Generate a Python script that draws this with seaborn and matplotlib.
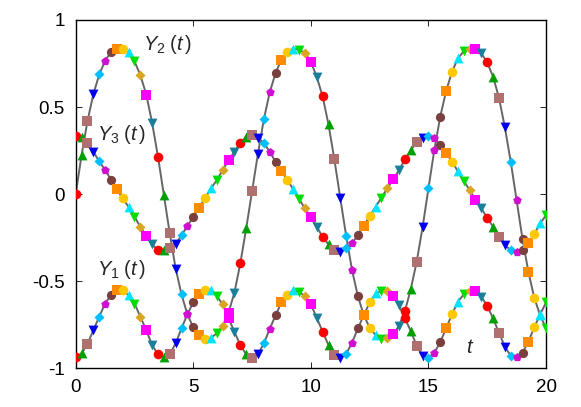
import numpy as np
import pandas as pd
import seaborn as sns
import matplotlib
matplotlib.use("Agg")
import matplotlib.pyplot as plt

# sample times (step 0.25)
t = [0.0, 0.25, 0.5, 0.75, 1.0, 1.25, 1.5, 1.75, 2.0, 2.25,
     2.5, 2.75, 3.0, 3.25, 3.5, 3.75, 4.0, 4.25, 4.5, 4.75,
     5.0, 5.25, 5.5, 5.75, 6.0, 6.25, 6.5, 6.75, 7.0, 7.25,
     7.5, 7.75, 8.0, 8.25, 8.5, 8.75, 9.0, 9.25, 9.5, 9.75,
     10.0, 10.25, 10.5, 10.75, 11.0, 11.25, 11.5, 11.75, 12.0, 12.25,
     12.5, 12.75, 13.0, 13.25, 13.5, 13.75, 14.0, 14.25, 14.5, 14.75,
     15.0, 15.25, 15.5, 15.75, 16.0, 16.25, 16.5, 16.75, 17.0, 17.25,
     17.5, 17.75, 18.0, 18.25, 18.5, 18.75, 19.0, 19.25, 19.5, 19.75,
     20.0]

y1 = [-0.938, -0.915, -0.861, -0.781, -0.704, -0.628, -0.580, -0.553, -0.553, -0.580,
      -0.628, -0.704, -0.781, -0.867, -0.920, -0.935, -0.920, -0.857, -0.771, -0.689,
      -0.622, -0.576, -0.551, -0.551, -0.586, -0.633, -0.714, -0.790, -0.867, -0.920,
      -0.940, -0.920, -0.857, -0.775, -0.695, -0.622, -0.580, -0.551, -0.561, -0.586,
      -0.633, -0.710, -0.790, -0.867, -0.924, -0.943, -0.918, -0.853, -0.771, -0.695,
      -0.622, -0.570, -0.557, -0.557, -0.586, -0.637, -0.714, -0.786, -0.871, -0.928,
      -0.940, -0.911, -0.851, -0.771, -0.691, -0.618, -0.576, -0.557, -0.557, -0.589,
      -0.641, -0.714, -0.796, -0.876, -0.928, -0.938, -0.911, -0.848, -0.765, -0.691,
      -0.622]

y2 = [0.000, 0.224, 0.419, 0.574, 0.687, 0.765, 0.817, 0.836, 0.836, 0.817,
      0.763, 0.683, 0.572, 0.409, 0.214, -0.006, -0.226, -0.427, -0.576, -0.691,
      -0.765, -0.809, -0.829, -0.824, -0.800, -0.757, -0.680, -0.565, -0.398, -0.197,
      0.017, 0.233, 0.429, 0.584, 0.696, 0.773, 0.817, 0.836, 0.830, 0.811,
      0.760, 0.674, 0.561, 0.400, 0.199, -0.022, -0.239, -0.436, -0.586, -0.695,
      -0.767, -0.809, -0.832, -0.825, -0.804, -0.756, -0.672, -0.545, -0.388, -0.191,
      0.033, 0.253, 0.444, 0.591, 0.702, 0.779, 0.821, 0.836, 0.836, 0.808,
      0.756, 0.674, 0.553, 0.383, 0.186, -0.036, -0.258, -0.446, -0.595, -0.695,
      -0.771]

y3 = [0.335, 0.329, 0.291, 0.243, 0.189, 0.138, 0.084, 0.029, -0.025, -0.073,
      -0.130, -0.188, -0.239, -0.289, -0.321, -0.321, -0.312, -0.289, -0.235, -0.184,
      -0.130, -0.077, -0.023, 0.033, 0.080, 0.138, 0.195, 0.243, 0.295, 0.329,
      0.339, 0.320, 0.295, 0.243, 0.186, 0.134, 0.080, 0.029, -0.029, -0.082,
      -0.134, -0.188, -0.245, -0.289, -0.323, -0.335, -0.312, -0.283, -0.235, -0.182,
      -0.126, -0.073, -0.021, 0.033, 0.086, 0.138, 0.199, 0.253, 0.297, 0.323,
      0.335, 0.320, 0.285, 0.239, 0.186, 0.132, 0.077, 0.023, -0.031, -0.082,
      -0.136, -0.188, -0.245, -0.293, -0.321, -0.331, -0.318, -0.279, -0.230, -0.168,
      -0.121]

# point style cycle (14 styles, repeated along t)
point_colors = ['#ff0000', '#00a000', '#b07070', '#0000ee', '#00bfff', '#d010d0', '#7a3f3f',
                '#ff8c00', '#ffc800', '#00e5ff', '#00dd00', '#daa520', '#ff00ff', '#1a7f9a']
point_markers = ['o', '^', 's', 'v', 'D', 'p', 'o', 's', 'o', '^', 'v', 'D', 's', 'v']
point_sizes = [48, 50, 44, 50, 26, 42, 44, 44, 48, 50, 50, 26, 44, 50]

sns.set_style("ticks")
plt.rcParams['font.family'] = ['Liberation Sans', 'DejaVu Sans']
plt.rcParams['mathtext.fontset'] = 'custom'
plt.rcParams['mathtext.rm'] = 'Liberation Sans'
plt.rcParams['mathtext.it'] = 'Liberation Sans:italic'

rows = []
for name, ys in [('Y1', y1), ('Y2', y2), ('Y3', y3)]:
    for i, (tt, yy) in enumerate(zip(t, ys)):
        rows.append({'t': tt, 'y': yy, 'curve': name, 'k': i % 14})
df = pd.DataFrame(rows)

fig = plt.figure(figsize=(5.81, 4.07), dpi=100)
ax = fig.add_axes([0.1303, 0.0951, 0.8095, 0.8558])

for name in ['Y1', 'Y2', 'Y3']:
    sub = df[df['curve'] == name]
    sns.lineplot(data=sub, x='t', y='y', sort=False, color='#666666', lw=1.4, ax=ax, zorder=1)

for k in range(14):
    sub = df[df['k'] == k]
    sns.scatterplot(data=sub, x='t', y='y', color=point_colors[k], marker=point_markers[k],
                    s=point_sizes[k], linewidth=0, ax=ax, zorder=3, legend=False)

ax.set_xlim(0, 20)
ax.set_ylim(-1, 1)
ax.set_xticks([0, 5, 10, 15, 20])
ax.set_yticks([-1, -0.5, 0, 0.5, 1])
ax.set_yticklabels(['-1', '-0.5', '0', '0.5', '1'])
ax.set_xlabel('')
ax.set_ylabel('')
ax.tick_params(direction='in', top=True, right=True, length=4.3, width=0.6,
               labelsize=13.5, pad=8, colors='black')
for sp in ax.spines.values():
    sp.set_linewidth(1.0)
    sp.set_color('black')

lab = dict(fontsize=14.5, ha='left', va='baseline')
ax.text(2.86, 0.827, r'$Y_2\;(t\,)$', **lab)
ax.text(0.89, 0.31, r'$Y_3\;(t\,)$', **lab)
ax.text(0.92, -0.465, r'$Y_1\;(t\,)$', **lab)
ax.text(16.76, -0.913, r'$t$', fontsize=14.5, ha='center', va='baseline')

fig.savefig('out.png', dpi=100)
